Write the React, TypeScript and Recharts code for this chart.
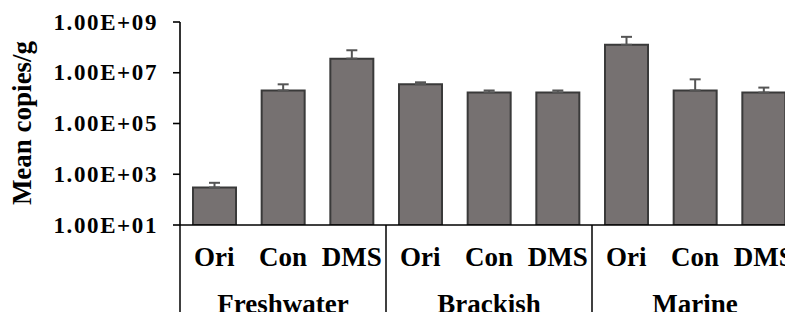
import { BarChart, Bar, XAxis, YAxis, ErrorBar, Label } from 'recharts';

const groups = ['Freshwater', 'Brackish', 'Marine'];
const treatments = ['Ori', 'Con', 'DMS'];
// mean copies/g, in order Freshwater Ori..DMS, Brackish Ori..DMS, Marine Ori..DMS
const means = [3.0e2, 2.0e6, 3.6e7, 3.5e6, 1.65e6, 1.65e6, 1.26e8, 2.0e6, 1.65e6];
// top of the error bar for each bar
const upper = [4.6e2, 3.5e6, 7.7e7, 4.2e6, 2.0e6, 2.0e6, 2.6e8, 5.5e6, 2.6e6];
const yTicks = [1e1, 1e3, 1e5, 1e7, 1e9];

const data = means.map((m, i) => ({
  key: `${groups[Math.floor(i / 3)]}-${treatments[i % 3]}`,
  group: groups[Math.floor(i / 3)],
  treatment: treatments[i % 3],
  mean: m,
  err: [0, upper[i] - m],
}));

const W = 800;
const H = 320;
const LEFT = 180;
const RIGHT = 2;
const TOP = 22;
const XAXIS_H = 95;
const AXIS_Y = H - XAXIS_H;
const catW = (W - LEFT - RIGHT) / data.length;

const FONT = 'Liberation Serif';

const T = (p: any) => (
  <text fontFamily={FONT} fontSize={27} fontWeight="bold" fill="#000" {...p} />
);

const sci = (v: number) => {
  const [m, e] = v.toExponential(2).split('e');
  return `${m}E${e[0]}${e.slice(1).padStart(2, '0')}`;
};

const YTick = (props: any) => {
  const { x, y, payload } = props;
  return (
    <T x={x} y={y} fontSize={23} letterSpacing={1.6} textAnchor="end" dominantBaseline="central">
      {sci(payload.value)}
    </T>
  );
};

const XTick = (props: any) => {
  const { x, payload } = props;
  const i = payload.index ?? props.index;
  const d = data[i];
  return (
    <g>
      <T x={x} y={AXIS_Y + 41} textAnchor="middle">
        {d.treatment}
      </T>
      {i % 3 === 0 && (
        <line x1={x - catW / 2} y1={AXIS_Y} x2={x - catW / 2} y2={H} stroke="#000" strokeWidth={1.5} />
      )}
      {i % 3 === 1 && (
        <T x={x} y={AXIS_Y + 88} textAnchor="middle">
          {d.group}
        </T>
      )}
    </g>
  );
};

const App = () => {
  return (
    <div style={{ margin: -8, width: W, height: H }}>
      <BarChart
        width={W}
        height={H}
        data={data}
        margin={{ top: TOP, right: RIGHT, left: 0, bottom: 0 }}
      >
        <XAxis
          dataKey="key"
          type="category"
          interval={0}
          height={XAXIS_H}
          tickLine={false}
          axisLine={{ stroke: '#000', strokeWidth: 1.6 }}
          tick={<XTick />}
        />
        <YAxis
          scale="log"
          domain={[1e1, 1e9]}
          ticks={yTicks}
          allowDataOverflow
          width={LEFT}
          tickSize={7}
          tickMargin={15}
          axisLine={{ stroke: '#000', strokeWidth: 1.6 }}
          tickLine={{ stroke: '#000', strokeWidth: 1.6 }}
          tick={<YTick />}
        >
          <Label
            content={() => (
              <T x={31} y={123} transform="rotate(-90, 31, 123)" textAnchor="middle">
                Mean copies/g
              </T>
            )}
          />
        </YAxis>
        <Bar
          dataKey="mean"
          fill="#767171"
          stroke="#3a3a3a"
          strokeWidth={2}
          barSize={43}
          isAnimationActive={false}
        >
          <ErrorBar dataKey="err" direction="y" width={5.5} stroke="#555" strokeWidth={2} />
        </Bar>
      </BarChart>
    </div>
  );
};

export default App;
